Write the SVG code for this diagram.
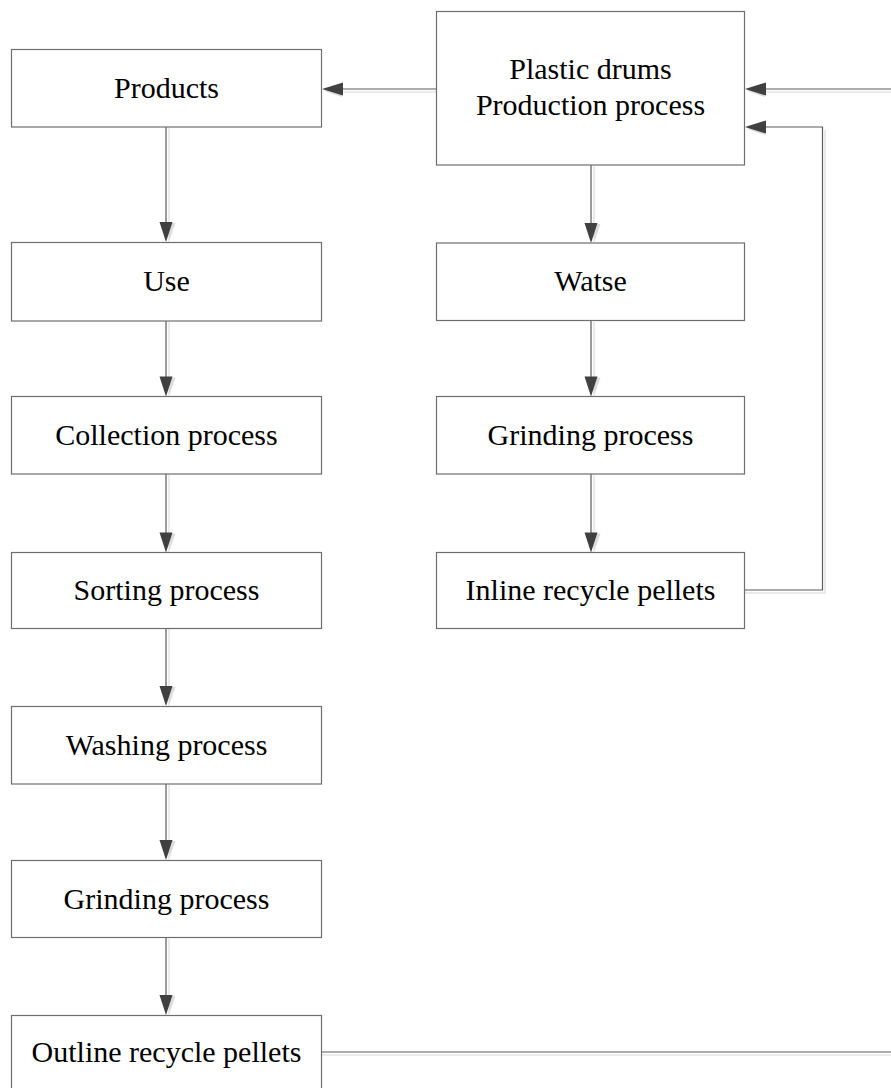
<svg xmlns="http://www.w3.org/2000/svg" width="891" height="1088" viewBox="0 0 891 1088">
<style>
.box{fill:#ffffff;stroke:#6e6e6e;stroke-width:1.2}
.lbl{font-family:"Liberation Serif","Times New Roman",serif;font-size:30px;fill:#000;text-anchor:middle}
.ln{fill:none;stroke:#5a5a5a;stroke-width:1.2}
.sh{fill:none;stroke:#e4e4e4;stroke-width:1.5}
.ah{fill:#404040}
.ahs{fill:#dcdcdc}
</style>
<defs>
<g id="adown"><polygon class="ahs" points="2.5,-19 9.5,-19 2.5,1"/><polygon class="ah" points="-6.5,-20 6.5,-20 0,0"/></g>
<g id="aleft"><polygon class="ahs" points="2,2 20,8 20,-4"/><polygon class="ah" points="0,0 21,-6.5 21,6.5"/></g>
</defs>
<rect width="891" height="1088" fill="#ffffff"/>
<g id="connectors">
<!-- shadows -->
<line class="sh" x1="169" y1="128" x2="169" y2="236"/>
<line class="sh" x1="169" y1="322" x2="169" y2="390"/>
<line class="sh" x1="169" y1="475" x2="169" y2="546"/>
<line class="sh" x1="169" y1="629" x2="169" y2="700"/>
<line class="sh" x1="169" y1="785" x2="169" y2="854"/>
<line class="sh" x1="169" y1="939" x2="169" y2="1009"/>
<line class="sh" x1="594" y1="166" x2="594" y2="237"/>
<line class="sh" x1="594" y1="322" x2="594" y2="390"/>
<line class="sh" x1="594" y1="475" x2="594" y2="546"/>
<line class="sh" x1="342" y1="92" x2="436" y2="92"/>
<line class="sh" x1="766" y1="92" x2="891" y2="92"/>
<polyline class="sh" points="745,593 825,593 825,130"/>
<line class="sh" x1="322" y1="1055" x2="891" y2="1055"/>
<!-- lines -->
<line class="ln" x1="166" y1="127" x2="166" y2="224"/>
<line class="ln" x1="166" y1="321" x2="166" y2="378"/>
<line class="ln" x1="166" y1="474" x2="166" y2="534"/>
<line class="ln" x1="166" y1="628" x2="166" y2="688"/>
<line class="ln" x1="166" y1="784" x2="166" y2="842"/>
<line class="ln" x1="166" y1="938" x2="166" y2="997"/>
<line class="ln" x1="591" y1="165" x2="591" y2="225"/>
<line class="ln" x1="591" y1="321" x2="591" y2="378"/>
<line class="ln" x1="591" y1="474" x2="591" y2="534"/>
<line class="ln" x1="340" y1="89" x2="436.5" y2="89"/>
<line class="ln" x1="763" y1="89" x2="891" y2="89"/>
<polyline class="ln" points="744.5,590 822.5,590 822.5,127 763,127"/>
<line class="ln" x1="321.5" y1="1052" x2="891" y2="1052"/>
<!-- arrowheads -->
<use href="#adown" x="166" y="242"/>
<use href="#adown" x="166" y="396.5"/>
<use href="#adown" x="166" y="552.5"/>
<use href="#adown" x="166" y="706"/>
<use href="#adown" x="166" y="860"/>
<use href="#adown" x="166" y="1015"/>
<use href="#adown" x="591" y="243"/>
<use href="#adown" x="591" y="396.5"/>
<use href="#adown" x="591" y="552.5"/>
<use href="#aleft" x="322" y="89"/>
<use href="#aleft" x="745" y="89"/>
<use href="#aleft" x="745" y="127"/>
</g>
<g id="n-production">
<rect class="box" x="436.5" y="11.5" width="308" height="153.5"/>
<text class="lbl" x="590.5" y="79">Plastic drums</text>
<text class="lbl" x="590.5" y="115">Production process</text>
</g>
<g id="n-products">
<rect class="box" x="11.5" y="49.5" width="310" height="77.5"/>
<text class="lbl" x="166.5" y="97.5">Products</text>
</g>
<g id="n-use">
<rect class="box" x="11.5" y="242.5" width="310" height="78.5"/>
<text class="lbl" x="166.5" y="291">Use</text>
</g>
<g id="n-collection">
<rect class="box" x="11.5" y="396.5" width="310" height="77.5"/>
<text class="lbl" x="166.5" y="445">Collection process</text>
</g>
<g id="n-sorting">
<rect class="box" x="11.5" y="552.5" width="310" height="76"/>
<text class="lbl" x="166.5" y="600">Sorting process</text>
</g>
<g id="n-washing">
<rect class="box" x="11.5" y="706.5" width="310" height="77.5"/>
<text class="lbl" x="166.5" y="755">Washing process</text>
</g>
<g id="n-grinding-left">
<rect class="box" x="11.5" y="860.5" width="310" height="77"/>
<text class="lbl" x="166.5" y="909">Grinding process</text>
</g>
<g id="n-outline">
<rect class="box" x="11.5" y="1015.5" width="310" height="78"/>
<text class="lbl" x="166.5" y="1062">Outline recycle pellets</text>
</g>
<g id="n-watse">
<rect class="box" x="436.5" y="243" width="308" height="77.5"/>
<text class="lbl" x="590.5" y="291">Watse</text>
</g>
<g id="n-grinding-right">
<rect class="box" x="436.5" y="396.5" width="308" height="77.5"/>
<text class="lbl" x="590.5" y="445">Grinding process</text>
</g>
<g id="n-inline">
<rect class="box" x="436.5" y="552.5" width="308" height="76"/>
<text class="lbl" x="590.5" y="600">Inline recycle pellets</text>
</g>
</svg>
